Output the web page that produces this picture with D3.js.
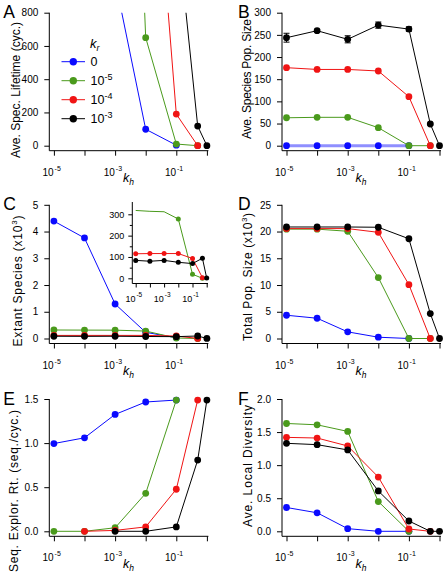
<!DOCTYPE html>
<html><head><meta charset="utf-8">
<script src="https://cdn.jsdelivr.net/npm/d3@7"></script>
<style>
body{margin:0;background:#fff;}
text{font-family:"Liberation Sans", Arial, sans-serif; fill:#000;}
</style>
</head><body>
<script>
// ---------- DATA ----------
const khValues = [1e-5, 1e-4, 1e-3, 1e-2, 1e-1, 0.5, 1];
const khTicks = [1e-5, 1e-4, 1e-3, 1e-2, 1e-1, 1];
const khTickExp = ["-5", "", "-3", "", "-1", ""];
const krNames = ["0", "10^-5", "10^-4", "10^-3"];
const krExp = ["", "-5", "-4", "-3"];
const colors = ["#0a0aff", "#4a9a1c", "#f01414", "#000000"];

// A: Ave. Spec. Lifetime (values above 800 run off the top of the chart)
const lifetimeKr0 = [6000, 3000, 996, 99, 3, null, null];
const lifetimeKr5 = [20000, 10000, 5200, 650, 10, 0, null];
const lifetimeKr4 = [4000, 3500, 3000, 2500, 190, 0, null];
const lifetimeKr3 = [3000, 2800, 2600, 2000, 1365, 118, 0];

// B: Ave. Species Pop. Size
const popSizeKr0 = [0, 0, 0, 0, 0, null, null];
const popSizeKr5 = [63, 64, 64, 40.6, 0, 0, null];
const popSizeKr4 = [176, 172, 172, 168.5, 110.5, 0, null];
const popSizeKr3 = [243.6, 259.4, 240, 272, 263, 49, 0];
const popSizeKr3Err = [10, 3, 8, 7, 5, 2, 0];

// C: Extant Species (counts)
const extantKr0 = [4390, 3760, 1290, 230, 30, null, null];
const extantKr5 = [318, 314, 312, 278, 19, 0, null];
const extantKr4 = [115, 116, 116, 116, 93, 3, null];
const extantKr3 = [84, 80, 84, 75, 69, 94, 1];

// D: Total Pop. Size (x10^3)
const totalPopKr0 = [4.35, 3.79, 1.24, 0.24, 0, null, null];
const totalPopKr5 = [20.45, 20.45, 20.05, 11.4, 0, 0, null];
const totalPopKr4 = [20.55, 20.55, 20.55, 19.85, 10.07, 0, null];
const totalPopKr3 = [20.85, 20.85, 20.85, 20.8, 18.65, 4.66, 0];

// E: Seq. Explor. Rt.
const explorKr0 = [0.995, 1.06, 1.325, 1.466, 1.488, null, null];
const explorKr5 = [0, 0, 0.04, 0.43, 1.488, null, null];
const explorKr4 = [null, 0, 0.01, 0.05, 0.477, 1.488, null];
const explorKr3 = [null, null, 0, 0, 0.05, 0.807, 1.488];

// F: Ave. Local Diversity
const diversityKr0 = [0.36, 0.28, 0.04, 0, 0, null, null];
const diversityKr5 = [1.63, 1.61, 1.51, 0.45, 0, null, null];
const diversityKr4 = [1.42, 1.41, 1.29, 0.82, 0.035, 0, null];
const diversityKr3 = [1.33, 1.31, 1.23, 0.61, 0.156, 0, 0];

// ---------- LAYOUT ----------
const cols = [{axis: 49.3, x0: 53.9, x1: 206.9}, {axis: 282, x0: 286.5, x1: 439.5}];
const rows = [{top: 12.7, zero: 145.7}, {top: 204.8, zero: 338.5}, {top: 399, zero: 531.3}];

const svg = d3.select("body").append("svg").attr("width", 446).attr("height", 577);
const defs = svg.append("defs");

const panels = [
  {letter: "A", col: 0, row: 0, yMax: 800, yTicks: [0, 200, 400, 600, 800], fmt: d => d,
   title: ["Ave. Spec. Lifetime (cyc.)"], tx: 20, ty: 90, tl: 136,
   series: [lifetimeKr0, lifetimeKr5, lifetimeKr4, lifetimeKr3], clip: true},
  {letter: "B", col: 1, row: 0, yMax: 300, yTicks: [0, 50, 100, 150, 200, 250, 300], fmt: d => d,
   title: ["Ave. Species Pop. Size"], tx: 251, ty: 79, tl: 120,
   series: [popSizeKr0, popSizeKr5, popSizeKr4, popSizeKr3], err: popSizeKr3Err},
  {letter: "C", col: 0, row: 1, yMax: 5000, yTicks: [0, 1000, 2000, 3000, 4000, 5000], fmt: d => d / 1000,
   title: ["Extant Species (x10", "3", ")"], tx: 22, ty: 281, tl: 131,
   series: [extantKr0, extantKr5, extantKr4, extantKr3]},
  {letter: "D", col: 1, row: 1, yMax: 25, yTicks: [0, 5, 10, 15, 20, 25], fmt: d => d,
   title: ["Total Pop. Size (x10", "3", ")"], tx: 252, ty: 277, tl: 128,
   series: [totalPopKr0, totalPopKr5, totalPopKr4, totalPopKr3]},
  {letter: "E", col: 0, row: 2, yMax: 1.5, yTicks: [0, 0.5, 1.0, 1.5], fmt: d3.format(".1f"),
   title: ["Seq. Explor. Rt. (seq./cyc.)"], tx: 18, ty: 491, tl: 162,
   series: [explorKr0, explorKr5, explorKr4, explorKr3]},
  {letter: "F", col: 1, row: 2, yMax: 2.0, yTicks: [0, 0.5, 1.0, 1.5, 2.0], fmt: d3.format(".1f"),
   title: ["Ave. Local Diversity"], tx: 252, ty: 466, tl: 122,
   series: [diversityKr0, diversityKr5, diversityKr4, diversityKr3]}
];

function expLabel(g, xPos, base, exp, size, supSize, rise) {
  g.append("text").attr("x", xPos - 0.3).attr("y", base).attr("text-anchor", "end")
    .attr("font-size", size).text("10");
  g.append("text").attr("x", xPos + 0.7).attr("y", base - rise)
    .attr("font-size", supSize).text(exp);
}

function drawSeries(g, x, y, data, color, r, clipId, lineStyle) {
  const pts = khValues.map((k, i) => [k, data[i]]);
  const line = d3.line().defined(d => d[1] != null).x(d => x(d[0])).y(d => y(d[1]));
  const path = g.append("path").attr("d", line(pts)).attr("fill", "none")
    .attr("stroke", lineStyle && lineStyle.color || color)
    .attr("stroke-width", lineStyle && lineStyle.width || 1)
    .attr("stroke-opacity", lineStyle && lineStyle.opacity || 1);
  if (clipId) path.attr("clip-path", `url(#${clipId})`);
  g.selectAll(null).data(pts.filter(d => d[1] != null && d[1] <= y.domain()[1]))
    .enter().append("circle")
    .attr("cx", d => x(d[0])).attr("cy", d => y(d[1])).attr("r", r).attr("fill", color);
}

panels.forEach((p, pi) => {
  const c = cols[p.col], r = rows[p.row];
  const x = d3.scaleLog().domain([1e-5, 1]).range([c.x0, c.x1]);
  const y = d3.scaleLinear().domain([0, p.yMax]).range([r.zero, r.top]);
  const g = svg.append("g");
  const axisY = r.zero + 5;

  // y axis
  const ya = g.append("g").attr("transform", `translate(${c.axis},0)`)
    .call(d3.axisLeft(y).tickValues(p.yTicks).tickFormat(p.fmt).tickSize(5).tickPadding(6).tickSizeOuter(0));
  ya.select(".domain").remove();
  ya.selectAll("text").attr("font-size", 10).attr("font-family", "Liberation Sans, Arial, sans-serif");
  g.append("line").attr("x1", c.axis).attr("x2", c.axis).attr("y1", r.top).attr("y2", axisY).attr("stroke", "#000");

  // x axis
  const xa = g.append("g").attr("transform", `translate(0,${axisY})`)
    .call(d3.axisBottom(x).tickValues(khTicks).tickFormat("").tickSize(5).tickSizeOuter(0));
  xa.select(".domain").remove();
  g.append("line").attr("x1", c.axis).attr("x2", c.x1 + 1.5).attr("y1", axisY).attr("y2", axisY).attr("stroke", "#000");
  khTicks.forEach((t, i) => {
    if (khTickExp[i]) expLabel(g, x(t), axisY + 25, khTickExp[i], 10, 7, 5);
  });
  const kt = g.append("text").attr("x", (c.x0 + c.x1) / 2 - 2).attr("y", r.zero + 36.5)
    .attr("text-anchor", "middle").attr("font-style", "italic");
  kt.append("tspan").attr("font-size", 12.5).text("k");
  kt.append("tspan").attr("font-size", 8.5).attr("dy", 3).text("h");

  // y title
  const tt = g.append("text").attr("transform", `translate(${p.tx},${p.ty}) rotate(-90)`)
    .attr("text-anchor", "middle").attr("font-size", 12)
    .attr("textLength", p.tl).attr("lengthAdjust", "spacing");
  tt.append("tspan").text(p.title[0]);
  if (p.title.length > 1) {
    tt.append("tspan").attr("font-size", 8).attr("dy", -5).text(p.title[1]);
    tt.append("tspan").attr("dy", 5).text(p.title[2]);
  }

  // panel letter
  g.append("text").attr("x", c.axis - (p.col === 0 ? 46 : 44)).attr("y", r.top + 5.5)
    .attr("font-size", 17.5).text(p.letter);

  // clip
  let clipId = null;
  if (p.clip) {
    clipId = "clip" + pi;
    defs.append("clipPath").attr("id", clipId).append("rect")
      .attr("x", c.axis).attr("y", r.top).attr("width", c.x1 - c.axis + 10).attr("height", r.zero - r.top + 10);
  }

  // error bars
  if (p.err) {
    const d3s = p.series[3];
    khValues.forEach((k, i) => {
      const v = d3s[i], e = p.err[i];
      if (v == null || !e) return;
      g.append("line").attr("x1", x(k)).attr("x2", x(k)).attr("y1", y(v - e)).attr("y2", y(v + e)).attr("stroke", "#000");
      [v - e, v + e].forEach(w => g.append("line").attr("x1", x(k) - 3).attr("x2", x(k) + 3)
        .attr("y1", y(w)).attr("y2", y(w)).attr("stroke", "#000"));
    });
  }

  p.series.forEach((s, si) => {
    const style = (p.letter === "B" && si === 0) ? {color: "#6a6aff", width: 3, opacity: 0.75} : null;
    drawSeries(g, x, y, s, colors[si], 3.4, clipId, style);
  });

  // inset for C
  if (p.letter === "C") {
    const ix = d3.scaleLog().domain([1e-5, 1]).range([135.7, 206.7]);
    const iy = d3.scaleLinear().domain([0, 300]).range([278.3, 214.3]);
    const ig = svg.append("g");
    const iAxisY = 283.5;
    const iya = ig.append("g").attr("transform", "translate(132.3,0)")
      .call(d3.axisLeft(iy).tickValues([0, 50, 100, 150, 200, 250, 300])
        .tickFormat(d => d % 100 === 0 ? d : "").tickSize(4).tickPadding(4).tickSizeOuter(0));
    iya.select(".domain").remove();
    iya.selectAll(".tick line").attr("x2", (d) => d % 100 === 0 ? -4 : -2.5);
    iya.selectAll("text").attr("font-size", 9).attr("font-family", "Liberation Sans, Arial, sans-serif");
    ig.append("line").attr("x1", 132.3).attr("x2", 132.3).attr("y1", 202).attr("y2", iAxisY).attr("stroke", "#000");
    const ixa = ig.append("g").attr("transform", `translate(0,${iAxisY})`)
      .call(d3.axisBottom(ix).tickValues(khTicks).tickFormat("").tickSize(4).tickSizeOuter(0));
    ixa.select(".domain").remove();
    ig.append("line").attr("x1", 132.3).attr("x2", 208).attr("y1", iAxisY).attr("y2", iAxisY).attr("stroke", "#000");
    khTicks.forEach((t, i) => {
      if (khTickExp[i]) expLabel(ig, ix(t), iAxisY + 18, khTickExp[i], 9, 6.5, 4.5);
    });
    [p.series[1], p.series[2], p.series[3]].forEach((s, si) => {
      drawSeries(ig, ix, iy, s, colors[si + 1], 2.5, null, null);
    });
  }

  // legend in A
  if (p.letter === "A") {
    const lg = svg.append("g");
    const lt = lg.append("text").attr("x", 90).attr("y", 47.5).attr("font-style", "italic");
    lt.append("tspan").attr("font-size", 13).text("k");
    lt.append("tspan").attr("font-size", 9).attr("dy", 3).text("r");
    const ly = [61.7, 80.7, 99.7, 118.7];
    krNames.forEach((n, i) => {
      lg.append("line").attr("x1", 61.5).attr("x2", 85).attr("y1", ly[i]).attr("y2", ly[i])
        .attr("stroke", colors[i]).attr("stroke-width", 1);
      lg.append("circle").attr("cx", 73.3).attr("cy", ly[i]).attr("r", 3.7).attr("fill", colors[i]);
      if (krExp[i] === "") {
        lg.append("text").attr("x", 90.5).attr("y", ly[i] + 4.5).attr("font-size", 12.5).text(n);
      } else {
        const tx = lg.append("text").attr("x", 90.5).attr("y", ly[i] + 4.5).attr("font-size", 12.5);
        tx.append("tspan").text("10");
        tx.append("tspan").attr("font-size", 9).attr("dy", -5.5).text(krExp[i]);
      }
    });
  }
});
</script>
</body></html>
